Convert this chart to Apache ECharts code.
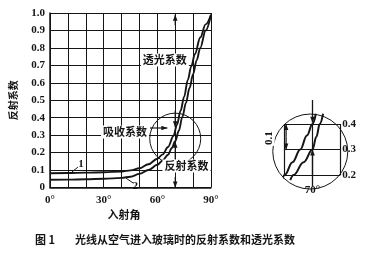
<!DOCTYPE html>
<html><head><meta charset="utf-8">
<script src="https://cdn.jsdelivr.net/npm/echarts@6/dist/echarts.min.js"></script>
<style>html,body{margin:0;padding:0;background:#fff}#c{width:368px;height:256px}</style>
</head><body><div id="c"></div>
<script>
// Main chart data (incidence angle in degrees, coefficient)
const curve1Angles = [0,10,20,30,40,45,50,55,60,63,66,69,71,73,75,77,79,81,84,87,90];
const curve1Values = [0.082,0.083,0.085,0.087,0.092,0.098,0.11,0.133,0.165,0.19,0.232,0.295,0.36,0.44,0.52,0.615,0.695,0.765,0.86,0.935,0.99];
const curve2Angles = [0,10,20,30,40,45,50,55,60,63,66,68,70,72,74,76,78,80,82,84,87,90];
const curve2Values = [0.044,0.045,0.047,0.05,0.055,0.062,0.078,0.1,0.13,0.155,0.188,0.225,0.265,0.325,0.405,0.485,0.57,0.65,0.73,0.80,0.9,0.99];
// Inset (magnified around 70°)
const inset1Angles = [64.6,65,66.4,67.8,69,70,70.6];
const inset1Values = [0.186,0.2,0.25,0.3,0.355,0.4,0.44];
const inset2Angles = [66,66.6,68.4,70,70.7,71.3,71.9];
const inset2Values = [0.18,0.2,0.25,0.3,0.35,0.4,0.44];
// Tick labels
const xTickLabels = {0:'0°',30:'30°',60:'60°',90:'90°'};
const insetXTickLabels = {70:'70°'};

const pairs = (a,b)=>a.map((x,i)=>[x,b[i]]);
const INK = '#151515';
const NUMFONT = '"Liberation Serif", serif';
const CJK = '"Noto Sans CJK SC", sans-serif';

const chart = echarts.init(document.getElementById('c'), null, {renderer:'canvas'});
chart.setOption({
  backgroundColor:'#fff',
  animation:false,
  grid:[
    {left:50, top:13, width:161, height:174.5},
    {left:284.7, top:124, width:55.6, height:51}
  ],
  xAxis:[
    {gridIndex:0, type:'value', min:0, max:90, interval:10,
     axisLine:{lineStyle:{color:INK,width:1.5}}, axisTick:{show:false},
     splitLine:{show:true,lineStyle:{color:INK,width:1}},
     axisLabel:{margin:7, color:INK, fontFamily:NUMFONT, fontWeight:'bold', fontSize:11,
       formatter:v=>xTickLabels[v]||''}},
    {gridIndex:1, type:'value', min:65, max:75, interval:5,
     axisLine:{show:false}, axisTick:{show:false},
     splitLine:{show:true,lineStyle:{color:INK,width:1.2}},
     axisLabel:{margin:10, color:INK, fontFamily:NUMFONT, fontWeight:'bold', fontSize:11,
       backgroundColor:'#fff', padding:[0,2],
       formatter:v=>insetXTickLabels[v]||''}}
  ],
  yAxis:[
    {gridIndex:0, type:'value', min:0, max:1, interval:0.1,
     name:'反射系数', nameLocation:'middle', nameRotate:90, nameGap:32,
     nameTextStyle:{color:INK, fontFamily:CJK, fontWeight:'bold', fontSize:10},
     axisLine:{show:true,lineStyle:{color:INK,width:1.5}}, axisTick:{show:false},
     splitLine:{show:true,lineStyle:{color:INK,width:1}},
     axisLabel:{margin:5, color:INK, fontFamily:NUMFONT, fontWeight:'bold', fontSize:11,
       formatter:v=>v===0?'0':v.toFixed(1)}},
    {gridIndex:1, type:'value', min:0.2, max:0.4, interval:0.1, position:'right',
     axisLine:{show:false}, axisTick:{show:false},
     splitLine:{show:true,lineStyle:{color:INK,width:1.2}},
     axisLabel:{margin:2, color:INK, fontFamily:NUMFONT, fontWeight:'bold', fontSize:11,
       formatter:v=>v.toFixed(1)}}
  ],
  series:[
    {type:'line', xAxisIndex:0, yAxisIndex:0, data:pairs(curve1Angles,curve1Values),
     smooth:0.35, smoothMonotone:'x', symbol:'none', lineStyle:{color:INK,width:1.9}, z:5},
    {type:'line', xAxisIndex:0, yAxisIndex:0, data:pairs(curve2Angles,curve2Values),
     smooth:0.35, smoothMonotone:'x', symbol:'none', lineStyle:{color:INK,width:1.9}, z:5},
    {type:'line', xAxisIndex:1, yAxisIndex:1, data:pairs(inset1Angles,inset1Values), clip:false,
     smooth:0.4, smoothMonotone:'x', symbol:'none', lineStyle:{color:INK,width:2}, z:5},
    {type:'line', xAxisIndex:1, yAxisIndex:1, data:pairs(inset2Angles,inset2Values), clip:false,
     smooth:0.4, smoothMonotone:'x', symbol:'none', lineStyle:{color:INK,width:2}, z:5}
  ]
});

const P0 = d => chart.convertToPixel({gridIndex:0}, d);
const P1 = d => chart.convertToPixel({gridIndex:1}, d);
const els = [];
function line(a,b,w){ els.push({type:'line', z:10, shape:{x1:a[0],y1:a[1],x2:b[0],y2:b[1]}, style:{stroke:INK,lineWidth:w||1.2}}); }
function head(from,tip){
  const dx=tip[0]-from[0], dy=tip[1]-from[1], L=Math.hypot(dx,dy), ux=dx/L, uy=dy/L, hl=6, hw=2.3;
  const bx=tip[0]-ux*hl, by=tip[1]-uy*hl;
  els.push({type:'polygon', z:11, shape:{points:[[tip[0],tip[1]],[bx-uy*hw,by+ux*hw],[bx+uy*hw,by-ux*hw]]}, style:{fill:INK}});
}
function arrow(a,b,w){ line(a,b,w); head(a,b); }
function text(p, s, opt){
  opt = opt||{};
  els.push({type:'text', z:20, x:p[0], y:p[1], rotation:opt.rotation||0,
    style:{text:s, align:opt.align||'center', verticalAlign:'middle', fill:INK,
      font:(opt.font||('bold 11px '+CJK)), backgroundColor:opt.bg||null, padding:opt.pad||0}});
}

// main circle
const mc = P0([70,0.28]);
els.push({type:'circle', z:9, shape:{cx:mc[0],cy:mc[1],r:25.5}, style:{fill:'none',stroke:INK,lineWidth:1}});
// inset circle
const ic = P1([69.6,0.292]);
els.push({type:'circle', z:9, shape:{cx:ic[0],cy:ic[1],r:37.5}, style:{fill:'none',stroke:INK,lineWidth:1}});

// transmission arrows
arrow(P0([70,0.93]), P0([70,0.99]));
arrow(P0([70,0.44]), P0([70,0.345]));
// reflection arrows
arrow(P0([70,0.16]), P0([70,0.262]));
arrow(P0([70,0.06]), P0([70,0.0]));
// absorption arrow
arrow(P0([55.9,0.341]), P0([65.6,0.341]));
// curve label leaders
line(P0([12.3,0.089]), P0([15.6,0.117]), 1);
line(P0([42.5,0.054]), P0([46.4,0.026]), 1);

// inset arrows
arrow(P1([70,0.494]), P1([70,0.405]), 1.3);
arrow(P1([70,0.154]), P1([70,0.3]), 1.3);
const m = P1([65.25,0.35]);
arrow(m, P1([65.25,0.4]), 1.2);
arrow(m, P1([65.25,0.3]), 1.2);

// labels
text(P0([64.2,0.73]), '透光系数', {bg:'#fff', pad:[1,2]});
text(P0([41.9,0.318]), '吸收系数', {bg:'#fff', pad:[1,2]});
text(P0([76.3,0.123]), '反射系数', {bg:'#fff', pad:[1,2]});
text(P0([17.3,0.131]), '1', {font:'bold 11px '+NUMFONT});
text(P0([47.6,0.008]), '2', {font:'bold 11px '+NUMFONT});
text(P0([41.4,-0.158]), '入射角', {font:'bold 11px '+CJK});
text(P1([62.2,0.345]), '0.1', {font:'bold 11px '+NUMFONT, rotation:Math.PI/2, bg:'#fff', pad:[0,1]});

// caption
text([35,240], '图 1', {align:'left', font:'bold 11px '+CJK});
text([75,240], '光线从空气进入玻璃时的反射系数和透光系数', {align:'left', font:'bold 11px '+CJK});

chart.setOption({graphic:{elements:els}});
</script></body></html>
